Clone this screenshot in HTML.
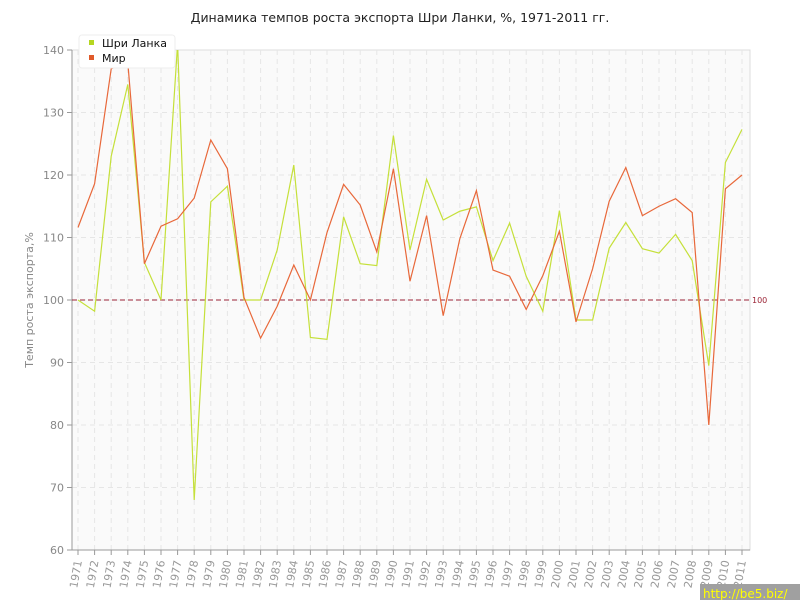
<!DOCTYPE html>
<html><head><meta charset="utf-8"><style>
body{margin:0;background:#fff;font-family:"Liberation Sans","DejaVu Sans",sans-serif}
</style></head><body>
<svg width="800" height="600" xmlns="http://www.w3.org/2000/svg" font-family="DejaVu Sans, Liberation Sans, sans-serif">
<text x="400" y="22" text-anchor="middle" font-size="12.5" fill="#222">Динамика темпов роста экспорта Шри Ланки, %, 1971-2011 гг.</text>
<rect x="72" y="50" width="678" height="500" fill="#fafafa" stroke="#ddd"/>
<g id="grid" stroke="#e6e6e6" stroke-dasharray="5,4"></g>
<line x1="72" y1="50" x2="72" y2="550" stroke="#999"/>
<line x1="72" y1="550" x2="750" y2="550" stroke="#999"/>
<g id="yl" font-size="11" fill="#888" text-anchor="end"></g>
<g id="xl" font-size="11" fill="#999"></g>
<text transform="translate(33,300) rotate(-90)" text-anchor="middle" font-size="11" fill="#888">Темп роста экспорта,%</text>
<line x1="72" y1="300" x2="750" y2="300" stroke="#9b2335" stroke-dasharray="5,3"/>
<text x="752" y="303" font-size="8" fill="#9b2335">100</text>
<clipPath id="c"><rect x="72" y="50" width="678" height="500"/></clipPath>
<g clip-path="url(#c)">
<polyline id="g" fill="none" stroke="#c5e03a" stroke-width="1.2"/>
<polyline id="o" fill="none" stroke="#e8683a" stroke-width="1.2"/>
</g>
<rect x="79" y="35" width="96" height="33" rx="3" fill="#fff" stroke="#eee"/>
<rect x="89" y="40" width="5" height="5" fill="#b5d620"/>
<text x="102" y="47" font-size="11" fill="#111">Шри Ланка</text>
<rect x="89" y="55" width="5" height="5" fill="#e05a2a"/>
<text x="102" y="62" font-size="11" fill="#111">Мир</text>
<rect x="700" y="584" width="100" height="16" fill="#a0a0a0"/>
<text x="703" y="598" font-size="12" fill="#ffff00">http://be5.biz/</text>
</svg>
<script>
const G=[100,98.2,123,134.5,106,100,141,68,115.7,118.2,100,100,108,121.6,94,93.7,113.3,105.8,105.5,126.3,108,119.3,112.8,114.2,114.9,106.3,112.3,103.8,98.2,114.3,96.8,96.8,108.3,112.4,108.2,107.5,110.5,106.3,89.5,122,127.3];
const O=[111.6,118.6,137,138,105.8,111.8,113,116.3,125.6,121,100.4,93.9,99,105.6,100,110.8,118.5,115.2,107.7,121,103,113.5,97.5,109.8,117.5,104.8,103.8,98.5,103.9,111,96.5,105,115.8,121.2,113.5,115,116.2,114,80,117.8,120];
const X=i=>78+i*16.6, Y=v=>50+(140-v)*6.25;
document.getElementById('g').setAttribute('points',G.map((v,i)=>X(i)+','+Y(v)).join(' '));
document.getElementById('o').setAttribute('points',O.map((v,i)=>X(i)+','+Y(v)).join(' '));
const ns='http://www.w3.org/2000/svg';
let gr=document.getElementById('grid'),yl=document.getElementById('yl'),xl=document.getElementById('xl');
for(let v=60;v<=140;v+=10){let y=Y(v);
 if(v>60&&v<140){let l=document.createElementNS(ns,'line');l.setAttribute('x1',72);l.setAttribute('x2',750);l.setAttribute('y1',y);l.setAttribute('y2',y);gr.appendChild(l);}
 let t=document.createElementNS(ns,'text');t.setAttribute('x',64);t.setAttribute('y',y+4);t.textContent=v;yl.appendChild(t);
 let k=document.createElementNS(ns,'line');k.setAttribute('x1',67);k.setAttribute('x2',72);k.setAttribute('y1',y);k.setAttribute('y2',y);k.setAttribute('stroke','#999');yl.appendChild(k);}
for(let i=0;i<41;i++){let x=X(i);
 let l=document.createElementNS(ns,'line');l.setAttribute('x1',x);l.setAttribute('x2',x);l.setAttribute('y1',50);l.setAttribute('y2',550);gr.appendChild(l);
 let k=document.createElementNS(ns,'line');k.setAttribute('x1',x);k.setAttribute('x2',x);k.setAttribute('y1',550);k.setAttribute('y2',555);k.setAttribute('stroke','#999');xl.appendChild(k);
 let t=document.createElementNS(ns,'text');t.setAttribute('transform','translate('+(x+4)+',561) rotate(-80)');t.setAttribute('text-anchor','end');t.textContent=1971+i;xl.appendChild(t);}
</script>
</body></html>
